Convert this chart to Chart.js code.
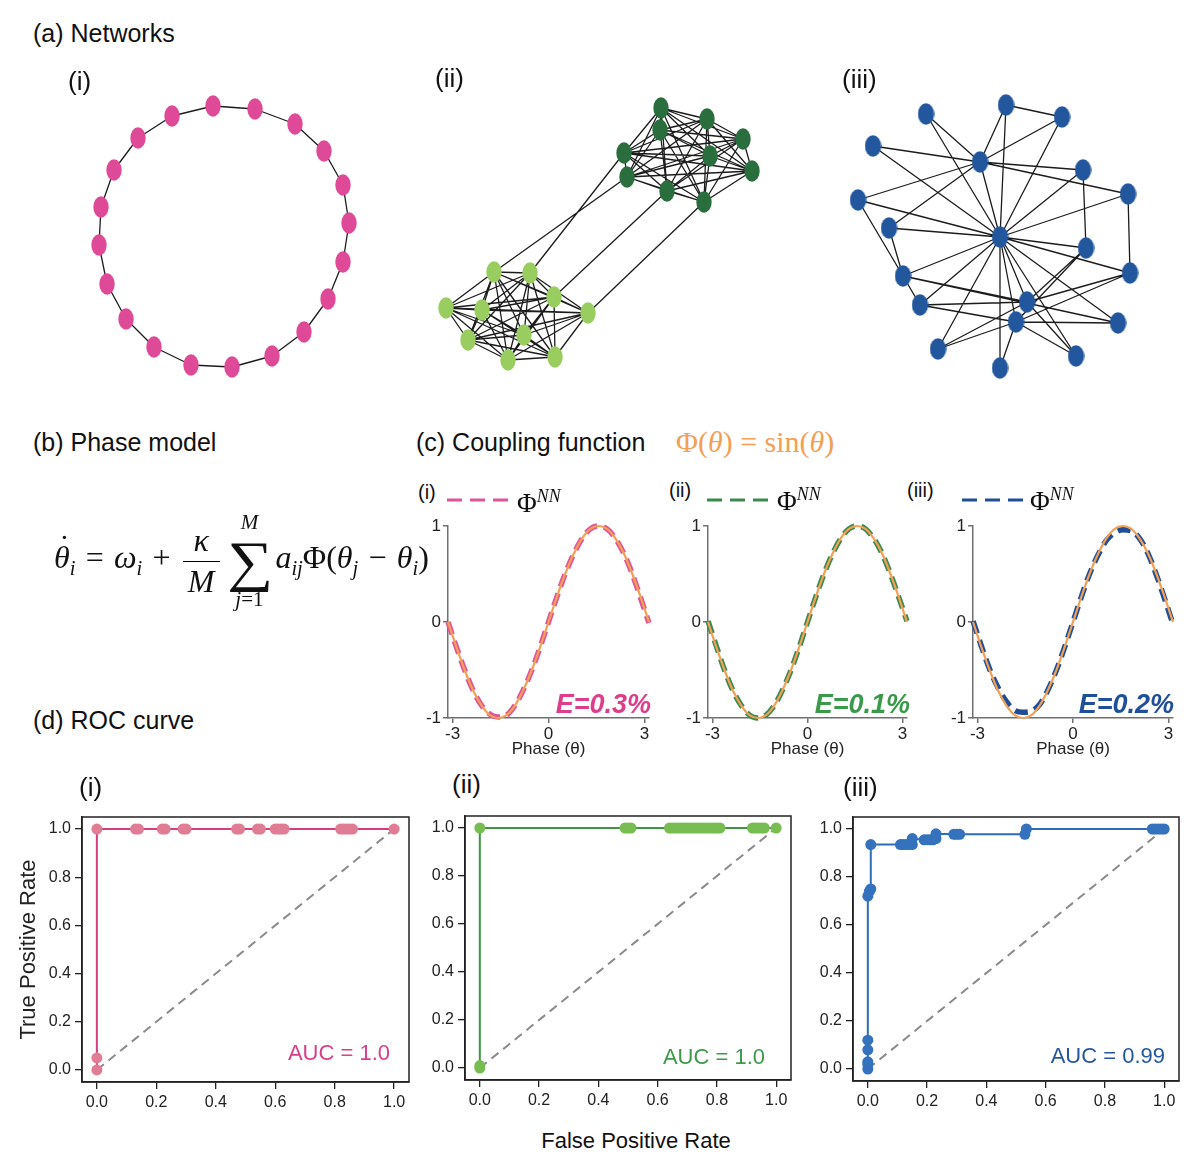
<!DOCTYPE html>
<html><head><meta charset="utf-8">
<script src="https://cdn.jsdelivr.net/npm/chart.js@4.4.1/dist/chart.umd.min.js"></script>
<style>
body{margin:0;background:#fff;width:1200px;height:1169px;position:relative;overflow:hidden;font-family:"Liberation Sans",Arial,sans-serif;color:#111}
canvas{position:absolute}
.t{position:absolute;white-space:nowrap;line-height:1}
.serif{font-family:"Liberation Serif","DejaVu Serif",serif}
.i{font-style:italic}
#eq sub{font-size:0.64em;vertical-align:-0.3em;line-height:0}
.op{margin:0 0.32em}
.frac{display:inline-block;vertical-align:middle;text-align:center;margin:0 4px 0 2px;line-height:1.05}
.frac>span{display:block}
.bar{border-top:1.5px solid #000;width:1.15em;margin:3px 0 3px 0}
.sum{display:inline-block;vertical-align:middle;text-align:center;margin:0 6px 0 6px;line-height:1}
.sum>span{display:block}
.lim{font-size:0.66em}
.sig{font-size:1.75em;line-height:1.0;transform:scaleX(1.15)}
.dot{position:relative}
.dot::after{content:'\02D9';position:absolute;left:0.16em;top:-0.40em;font-style:normal}
.leg sup{font-size:0.66em;vertical-align:0.55em;line-height:0;font-style:italic}
.E{font-weight:bold;font-style:italic;font-size:27px}
.auc{font-size:22px}
</style></head><body>

<canvas id="netI" width="320" height="320" style="left:60px;top:80px"></canvas>
<canvas id="netII" width="360" height="320" style="left:420px;top:80px"></canvas>
<canvas id="netIII" width="340" height="320" style="left:830px;top:80px"></canvas>

<canvas id="cI" width="260" height="250" style="left:405px;top:510px"></canvas>
<canvas id="cII" width="260" height="250" style="left:665px;top:510px"></canvas>
<canvas id="cIII" width="260" height="250" style="left:930px;top:510px"></canvas>

<canvas id="rI" width="412" height="320" style="left:12px;top:800px"></canvas>
<canvas id="rII" width="385" height="320" style="left:420px;top:800px"></canvas>
<canvas id="rIII" width="386" height="320" style="left:808px;top:800px"></canvas>

<div class="t" style="left:33px;top:21px;font-size:25px">(a) Networks</div>
<div class="t" style="left:68px;top:68px;font-size:26px">(i)</div>
<div class="t" style="left:435px;top:65px;font-size:26px">(ii)</div>
<div class="t" style="left:842px;top:66px;font-size:26px">(iii)</div>

<div class="t" style="left:33px;top:430px;font-size:25px">(b) Phase model</div>
<div id="eq" class="serif" style="position:absolute;left:54px;top:512px;font-size:32px;white-space:nowrap;line-height:1.2"><span class="i dot">θ</span><sub class="i">i</sub><span class="op">=</span><span class="i">ω</span><sub class="i">i</sub><span class="op">+</span><span class="frac"><span class="i">κ</span><span class="bar"></span><span class="i">M</span></span><span class="sum"><span class="i lim">M</span><span class="sig">∑</span><span class="lim"><span class="i">j</span>=1</span></span><span class="i">a</span><sub class="i">ij</sub>Φ(<span class="i">θ</span><sub class="i">j</sub><span class="op">−</span><span class="i">θ</span><sub class="i">i</sub>)</div>

<div class="t" style="left:416px;top:430px;font-size:25px">(c) Coupling function</div>
<div class="t serif" style="left:676px;top:427px;font-size:30px;color:#f2a055">Φ(<span class="i">θ</span>) = sin(<span class="i">θ</span>)</div>

<div class="t" style="left:418px;top:482px;font-size:20px">(i)</div>
<div class="t" style="left:669px;top:480px;font-size:20px">(ii)</div>
<div class="t" style="left:907px;top:480px;font-size:20px">(iii)</div>
<svg style="position:absolute;left:0;top:0" width="1200" height="520">
 <line x1="447" y1="500" x2="508" y2="500" stroke="#e0559a" stroke-width="3" stroke-dasharray="15,8"/>
 <line x1="707" y1="500" x2="768" y2="500" stroke="#3b8a4d" stroke-width="3" stroke-dasharray="15,8"/>
 <line x1="962" y1="500" x2="1023" y2="500" stroke="#1f4e96" stroke-width="3" stroke-dasharray="15,8"/>
</svg>
<div class="t serif leg" style="left:517px;top:490px;font-size:27px">Φ<sup>NN</sup></div>
<div class="t serif leg" style="left:777px;top:488px;font-size:27px">Φ<sup>NN</sup></div>
<div class="t serif leg" style="left:1030px;top:488px;font-size:27px">Φ<sup>NN</sup></div>

<div class="t E" style="right:549px;top:691px;color:#de3d8c">E=0.3%</div>
<div class="t E" style="right:290px;top:691px;color:#3a9a4a">E=0.1%</div>
<div class="t E" style="right:26px;top:691px;color:#1f4f98">E=0.2%</div>

<div class="t" style="left:33px;top:708px;font-size:25px">(d) ROC curve</div>
<div class="t" style="left:79px;top:774px;font-size:26px">(i)</div>
<div class="t" style="left:452px;top:771px;font-size:26px">(ii)</div>
<div class="t" style="left:843px;top:774px;font-size:26px">(iii)</div>

<div class="t auc" style="right:810px;top:1042px;color:#d93f8a">AUC = 1.0</div>
<div class="t auc" style="right:435px;top:1046px;color:#3d9a4a">AUC = 1.0</div>
<div class="t auc" style="right:35px;top:1045px;color:#25589e">AUC = 0.99</div>

<div class="t" style="left:636px;top:1130px;font-size:22px;transform:translateX(-50%)">False Positive Rate</div>

<script>
// ---------------- DATA ----------------
// (a) network layouts (layout units, y up)
const ringNodes = [[-0.11,1.31],[0.31,1.28],[0.71,1.13],[1.00,0.86],[1.19,0.52],[1.25,0.14],[1.19,-0.25],[1.04,-0.62],[0.80,-0.95],[0.48,-1.19],[0.08,-1.30],[-0.33,-1.28],[-0.70,-1.10],[-0.98,-0.82],[-1.17,-0.47],[-1.25,-0.08],[-1.23,0.30],[-1.10,0.67],[-0.86,0.99],[-0.52,1.21]];
const darkNodes = [[0.61,1.27],[1.07,1.16],[0.60,1.05],[1.43,0.96],[0.24,0.82],[1.10,0.79],[1.52,0.64],[0.27,0.58],[0.67,0.44],[1.04,0.33]];
const lightNodes = [[-1.06,-0.37],[-0.70,-0.38],[-0.46,-0.62],[-1.54,-0.73],[-1.18,-0.75],[-0.12,-0.78],[-1.32,-1.05],[-0.76,-1.00],[-0.92,-1.25],[-0.45,-1.22]];
const bridgeEdges = [[0,7],[1,4],[2,8],[5,9]]; // [light index, dark index]
const hubNodes = [[0.06,1.32],[-0.74,1.23],[0.62,1.20],[-1.27,0.91],[-0.20,0.75],[0.83,0.67],[-1.42,0.37],[1.28,0.43],[-1.11,0.09],[0,0],[0.86,-0.11],[-0.97,-0.39],[1.30,-0.36],[-0.80,-0.68],[0.27,-0.65],[0.16,-0.85],[1.18,-0.86],[-0.62,-1.12],[0.76,-1.19],[0,-1.31]];
const hubEdges = [[0,2],[0,4],[0,9],[2,4],[2,9],[1,4],[1,9],[3,4],[3,9],[4,5],[4,7],[4,6],[4,8],[4,9],[6,9],[6,11],[8,9],[8,11],[5,9],[5,10],[7,9],[7,12],[9,10],[9,12],[9,11],[9,13],[9,17],[9,19],[9,15],[9,14],[9,18],[9,16],[11,13],[11,14],[11,16],[13,14],[13,15],[14,10],[14,12],[14,18],[15,10],[15,12],[15,16],[15,17],[15,19],[17,14],[15,18]];

// (c) coupling functions
const phase  = [-3.14,-2.88,-2.62,-2.36,-2.09,-1.83,-1.57,-1.31,-1.05,-0.79,-0.52,-0.26,0,0.26,0.52,0.79,1.05,1.31,1.57,1.83,2.09,2.36,2.62,2.88,3.14];
const sinRef = [0,-0.26,-0.5,-0.71,-0.87,-0.97,-1,-0.97,-0.87,-0.71,-0.5,-0.26,0,0.26,0.5,0.71,0.87,0.97,1,0.97,0.87,0.71,0.5,0.26,0];
const nnI    = [0.00,-0.26,-0.50,-0.71,-0.87,-0.96,-0.99,-0.97,-0.87,-0.71,-0.50,-0.26,0.00,0.26,0.50,0.71,0.87,0.97,1.00,0.97,0.87,0.71,0.50,0.25,-0.01];
const nnII   = [0.01,-0.25,-0.50,-0.71,-0.87,-0.97,-1.00,-0.97,-0.87,-0.71,-0.50,-0.26,0.00,0.26,0.50,0.71,0.87,0.97,1.00,0.97,0.87,0.71,0.50,0.26,0.01];
const nnIII  = [0.01,-0.25,-0.49,-0.68,-0.83,-0.92,-0.94,-0.93,-0.86,-0.71,-0.50,-0.26,0.00,0.26,0.50,0.70,0.85,0.93,0.96,0.95,0.87,0.71,0.49,0.24,-0.02];
const phaseTicks = [-3,0,3];
const phiTicks = [-1,0,1];

// (d) ROC curves
const fprI  = [0,0,0,0.13,0.14,0.22,0.23,0.29,0.30,0.47,0.48,0.54,0.55,0.60,0.61,0.62,0.63,0.82,0.83,0.84,0.85,0.86,1.0];
const tprI  = [0,0.05,1,1,1,1,1,1,1,1,1,1,1,1,1,1,1,1,1,1,1,1,1];
const fprII = [0,0,0,0.49,0.50,0.51,0.64,0.65,0.66,0.67,0.68,0.69,0.70,0.71,0.72,0.73,0.74,0.75,0.76,0.77,0.78,0.79,0.80,0.81,0.92,0.93,0.94,0.95,0.96,1.0];
const tprII = [0,0.01,1,1,1,1,1,1,1,1,1,1,1,1,1,1,1,1,1,1,1,1,1,1,1,1,1,1,1,1];
const fprIII = [0,0,0,0,0,0,0.005,0.01,0.01,0.11,0.12,0.13,0.14,0.15,0.15,0.19,0.20,0.21,0.22,0.23,0.23,0.29,0.30,0.31,0.53,0.535,0.96,0.97,0.98,0.99,1.0];
const tprIII = [0,0.02,0.03,0.08,0.12,0.72,0.74,0.75,0.935,0.935,0.935,0.935,0.935,0.935,0.96,0.955,0.955,0.955,0.955,0.96,0.98,0.978,0.978,0.978,0.978,1.0,1.0,1.0,1.0,1.0,1.0];
const chance = [0,1];
const rateTicks = [0,0.2,0.4,0.6,0.8,1.0];

// ---------------- HELPERS ----------------
Chart.defaults.font.family = "'Liberation Sans', Arial, sans-serif";
Chart.defaults.color = '#222';
Chart.defaults.animation = false;
Chart.defaults.events = [];
Chart.defaults.layout.autoPadding = false;
Chart.defaults.plugins.legend.display = false;
Chart.defaults.plugins.tooltip.enabled = false;

function ellipse(color,w,h){
  const c=document.createElement('canvas'); c.width=w; c.height=h;
  const g=c.getContext('2d'); g.fillStyle=color; g.beginPath();
  g.ellipse(w/2,h/2,w/2-0.3,h/2-0.3,0,0,2*Math.PI); g.fill(); return c;
}
const pts=(xs,ys)=>xs.map((x,i)=>({x,y:ys[i]}));
const nodePts=nodes=>nodes.map(n=>({x:n[0],y:n[1]}));
function edgePts(nodes,edges){
  const d=[];
  edges.forEach(([a,b])=>{d.push({x:nodes[a][0],y:nodes[a][1]},{x:nodes[b][0],y:nodes[b][1]},{x:null,y:null});});
  return d;
}
function cliqueEdges(offset,n){const e=[];for(let i=0;i<n;i++)for(let j=i+1;j<n;j++)e.push([offset+i,offset+j]);return e;}

function netChart(id, groups, allNodes, edges, xr, yr){
  const ds = groups.map(g=>({data:nodePts(g.nodes), pointStyle:ellipse(g.color,g.w,g.h), pointRadius:8, order:0}));
  ds.push({data:edgePts(allNodes,edges), showLine:true, spanGaps:false, borderColor:'#1c1c1c', borderWidth:1.3, pointRadius:0, order:5});
  new Chart(document.getElementById(id),{type:'scatter',data:{datasets:ds},
    options:{responsive:false,layout:{padding:0,autoPadding:false},
      scales:{x:{type:'linear',display:false,min:xr[0],max:xr[1]},y:{type:'linear',display:false,min:yr[0],max:yr[1]}}}});
}

// ---------------- (a) NETWORKS ----------------
const ringEdges = ringNodes.map((_,i)=>[i,(i+1)%ringNodes.length]);
netChart('netI',[{nodes:ringNodes,color:'#df4a98',w:16,h:22}],ringNodes,ringEdges,[-1.64,1.56],[-1.63,1.57]);

const modNodes = darkNodes.concat(lightNodes);
const modEdges = cliqueEdges(0,darkNodes.length)
  .concat(cliqueEdges(darkNodes.length,lightNodes.length))
  .concat(bridgeEdges.map(([l,d])=>[darkNodes.length+l,d]));
netChart('netII',[{nodes:darkNodes,color:'#2b6e3e',w:16,h:22},{nodes:lightNodes,color:'#9acd60',w:16,h:22}],modNodes,modEdges,[-1.8,1.8],[-1.65,1.55]);

netChart('netIII',[{nodes:hubNodes,color:'#23579d',w:17,h:22}],hubNodes,hubEdges,[-1.7,1.7],[-1.63,1.57]);

// ---------------- (c) COUPLING ----------------
const ORANGE='#f2a055';
function coupChart(id, nn, color, padRight){
  const axisCol='#707070';
  new Chart(document.getElementById(id),{type:'scatter',
    data:{datasets:[
      {data:pts(phase,sinRef),showLine:true,borderColor:ORANGE,borderWidth:2.2,pointRadius:0,cubicInterpolationMode:'monotone',clip:false,order:0},
      {data:pts(phase,nn),showLine:true,borderColor:color,borderWidth:5.5,borderDash:[13,7],pointRadius:0,cubicInterpolationMode:'monotone',clip:false,order:1}
    ]},
    options:{responsive:false,layout:{padding:{top:16,right:padRight,left:0,bottom:0}},
      scales:{
        x:{type:'linear',min:-3.1416,max:3.1416,
           afterBuildTicks:s=>{s.ticks=phaseTicks.map(v=>({value:v}));},
           ticks:{font:{size:17},color:'#222',padding:1,maxRotation:0,autoSkip:false},
           grid:{drawOnChartArea:false,tickLength:5,color:axisCol,lineWidth:1.5},
           border:{color:axisCol,width:1.5},
           title:{display:true,text:'Phase (θ)',font:{size:17},color:'#222',padding:{top:0,bottom:0}},
           afterFit:s=>{s.height=42;}},
        y:{type:'linear',min:-1,max:1,
           afterBuildTicks:s=>{s.ticks=phiTicks.map(v=>({value:v}));},
           ticks:{font:{size:17},color:'#222',padding:2,autoSkip:false},
           grid:{drawOnChartArea:false,tickLength:5,color:axisCol,lineWidth:1.5},
           border:{color:axisCol,width:1.5},
           afterFit:s=>{s.width=43;}}
      }}});
}
coupChart('cI',nnI,'#e0559a',16);
coupChart('cII',nnII,'#3b8a4d',18);
coupChart('cIII',nnIII,'#1f4e96',17);

// ---------------- (d) ROC ----------------
const boxPlugin={id:'box',beforeDatasetsDraw(c){const a=c.chartArea,g=c.ctx;g.save();g.strokeStyle='#222';g.lineWidth=1.5;g.strokeRect(a.left,a.top,a.right-a.left,a.bottom-a.top);g.restore();}};
function rocChart(id, xs, ys, lineCol, markCol, o){
  const ax={type:'linear',min:-0.05,max:1.05,
     afterBuildTicks:s=>{s.ticks=rateTicks.map(v=>({value:v}));},
     ticks:{font:{size:16},color:'#222',padding:4,maxRotation:0,autoSkip:false,callback:v=>Number(v).toFixed(1)},
     grid:{drawOnChartArea:false,tickLength:7,color:'#222',lineWidth:1.3},
     border:{color:'#222',width:1.5}};
  new Chart(document.getElementById(id),{type:'scatter',
    data:{datasets:[
      {data:pts(xs,ys),showLine:true,borderColor:lineCol,borderWidth:2,pointRadius:5.5,pointBackgroundColor:markCol,pointBorderWidth:0,order:0,clip:false},
      {data:pts(chance,chance),showLine:true,borderColor:'#8a8a8a',borderWidth:2,borderDash:[9,6],pointRadius:0,order:1}
    ]},
    plugins:[boxPlugin],
    options:{responsive:false,layout:{padding:{top:o.top,right:o.right,left:0,bottom:0}},
      scales:{
        x:Object.assign({},ax,{afterFit:s=>{s.height=o.xh;}}),
        y:Object.assign({},ax,{afterFit:s=>{s.width=o.yw;},
           title:{display:!!o.ytitle,text:o.ytitle||'',font:{size:22},color:'#222',padding:{top:4,bottom:0}}})
      }}});
}
rocChart('rI',fprI,tprI,'#d63f7e','#e07d95',{top:17,right:15,xh:38,yw:70,ytitle:'True Positive Rate'});
rocChart('rII',fprII,tprII,'#3f9445','#78bd52',{top:16,right:14,xh:40,yw:45});
rocChart('rIII',fprIII,tprIII,'#2e6db5','#3572bd',{top:17,right:15,xh:39,yw:45});
</script>
</body></html>
